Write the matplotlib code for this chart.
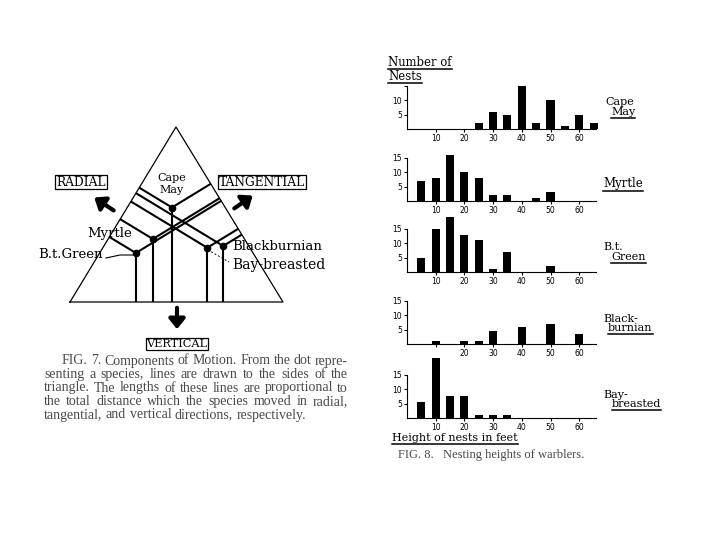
import matplotlib
matplotlib.use("Agg")
import matplotlib.pyplot as plt
import numpy as np

# nest heights (ft), bin centres every 5 ft
heights = [5, 10, 15, 20, 25, 30, 35, 40, 45, 50, 55, 60, 65]
cape_may = [0, 0, 0, 0, 2, 6, 5, 15, 2, 10, 1, 5, 2]
myrtle = [7, 8, 16, 10, 8, 2, 2, 0, 1, 3, 0, 0, 0]
bt_green = [5, 15, 19, 13, 11, 1, 7, 0, 0, 2, 0, 0, 0]
blackburnian = [0, 1, 0, 1, 1, 4.5, 0, 6, 0, 7, 0, 3.5, 0]
bay_breasted = [5.5, 21, 7.5, 7.5, 1, 1, 1, 0, 0, 0, 0, 0, 0]

# components of motion (fractions): radial, tangential, vertical
species = ["Cape May", "Myrtle", "B.t.Green", "Blackburnian", "Bay-breasted"]
radial = [0.21, 0.21, 0.17, 0.56, 0.49]
tangential = [0.25, 0.43, 0.55, 0.12, 0.20]
vertical = [0.54, 0.36, 0.28, 0.32, 0.31]

W, H = 720, 540
fig = plt.figure(figsize=(7.2, 5.4), dpi=100)
ov = fig.add_axes([0, 0, 1, 1])
ov.set_xlim(0, W)
ov.set_ylim(H, 0)
ov.axis("off")
renderer = fig.canvas.get_renderer()

HAND = "DejaVu Serif"
SERIF = "Liberation Serif"
GREY = "#4a4a4a"


def label(x, y, s, size=8, underline=False, ha="left", **kw):
    t = ov.text(x, y, s, fontsize=size, family=HAND, ha=ha, va="center", **kw)
    if underline:
        bb = t.get_window_extent(renderer)
        ov.plot([bb.x0, bb.x1], [y + size * 0.8, y + size * 0.8], color="k", lw=1.1)
    return t


def justify(line, x0, x1, y, last=False, size=10):
    words = line.split()
    texts = [ov.text(0, y, w, fontsize=size, family=SERIF, color=GREY, va="center") for w in words]
    widths = [t.get_window_extent(renderer).width for t in texts]
    gap = size * 0.35 if last else (x1 - x0 - sum(widths)) / (len(words) - 1)
    x = x0
    for t, w in zip(texts, widths):
        t.set_x(x)
        x += w + gap


# ---- Fig. 7 triangle ----
apex = np.array([176.0, 127.0])
bl = np.array([70.0, 302.0])
br = np.array([283.0, 302.0])
ov.plot([bl[0], apex[0], br[0], bl[0]], [bl[1], apex[1], br[1], bl[1]], color="k", lw=0.9)


def foot(p, a, b):
    d = b - a
    return a + np.dot(p - a, d) / np.dot(d, d) * d


dots = []
for r, t, v in zip(radial, tangential, vertical):
    p = r * br + t * bl + v * apex
    dots.append(p)
    for f in (foot(p, apex, bl), foot(p, apex, br), np.array([p[0], bl[1]])):
        ov.plot([p[0], f[0]], [p[1], f[1]], color="k", lw=1.5, solid_capstyle="butt")
    ov.plot(p[0], p[1], "o", color="k", ms=4.5)

label(dots[0][0], 178, "Cape", size=8, ha="center")
label(dots[0][0], 190, "May", size=8, ha="center")
label(87, 233, "Myrtle", size=9.5)
label(38, 255, "B.t.Green", size=9.5)
ov.plot([106, 120, dots[2][0]], [258, 255, 255], color="k", lw=0.8)
label(232, 247, "Blackburnian", size=9.5)
label(232, 265, "Bay-breasted", size=10)
ov.plot([dots[4][0] + 4, 229], [dots[4][1] + 4, 262], color="k", lw=0.7, ls=(0, (2, 2)))

box = dict(boxstyle="square,pad=0.08", fc="white", ec="k", lw=0.9)
ov.text(81, 182, "RADIAL", fontsize=8.8, family=HAND, ha="center", va="center", bbox=box)
ov.text(262, 182, "TANGENTIAL", fontsize=8.8, family=HAND, ha="center", va="center", bbox=box)
ov.text(177, 344, "VERTICAL", fontsize=8.2, family=HAND, ha="center", va="center", bbox=box)

arrow = dict(arrowstyle="-|>,head_length=0.5,head_width=0.4", lw=3, color="k", mutation_scale=12)
ov.annotate("", xy=(92, 196), xytext=(116, 212), arrowprops=arrow)
ov.annotate("", xy=(255, 194), xytext=(232, 210), arrowprops=arrow)
ov.annotate("", xy=(177, 332), xytext=(177, 305), arrowprops=arrow)

cap7 = [
    "FIG. 7.  Components of Motion.  From the dot repre-",
    "senting a species, lines are drawn to the sides of the",
    "triangle.  The lengths of these lines are proportional to",
    "the total distance which the species moved in radial,",
    "tangential, and vertical directions, respectively.",
]
for i, line in enumerate(cap7):
    justify(line, 62 if i == 0 else 44, 348, 361 + i * 13.5, last=(i == len(cap7) - 1))

# ---- Fig. 8 histograms ----
PX = 2.87  # pixels per unit on both axes
baselines = [129, 201, 272, 344, 418]
counts = [cape_may, myrtle, bt_green, blackburnian, bay_breasted]
xlabs = [
    ["10", "20", "30", "40", "50", "60"],
    ["10", "20", "30", "40", "50", "60"],
    ["10", "20", "30", "40", "50", "60"],
    ["", "20", "30", "40", "50", "60"],
    ["10", "20", "30", "40", "50", "60"],
]
ylabs = [["5", "10", ""], ["5", "10", "15"], ["5", "10", "15"], ["5", "10", "15"], ["5", "10", "15"]]

for c, yb, xl, yl in zip(counts, baselines, xlabs, ylabs):
    ax = fig.add_axes([407 / W, (H - yb) / H, 67 * PX / W, 24 * PX / H])
    ax.patch.set_alpha(0)
    ax.bar(heights, c, width=2.8, color="k")
    ax.set_xlim(0, 67)
    ax.set_ylim(0, 24)
    ax.spines[["top", "right"]].set_visible(False)
    ax.spines["left"].set_bounds(0, 15)
    ax.spines["bottom"].set_bounds(0, 66)
    ax.set_xticks([10, 20, 30, 40, 50, 60])
    ax.set_xticklabels(xl)
    ax.set_yticks([5, 10, 15])
    ax.set_yticklabels(yl)
    ax.tick_params(length=2, width=0.8, labelsize=5.5, pad=1.5)

label(388, 62, "Number of", size=8.4, underline=True)
label(388, 76, "Nests", size=8.4, underline=True)
label(605, 102, "Cape", size=8)
label(611, 112, "May", size=8, underline=True)
label(603, 184, "Myrtle", size=8.5, underline=True)
label(603, 247, "B.t.", size=8)
label(611, 257, "Green", size=8, underline=True)
label(603, 319, "Black-", size=8)
label(608, 328, "burnian", size=8, underline=True)
label(603, 395, "Bay-", size=8)
label(612, 404, "breasted", size=8, underline=True)
label(392, 438, "Height of nests in feet", size=8, underline=True)
ov.text(398, 455, "FIG. 8.   Nesting heights of warblers.", fontsize=9, family=SERIF,
        color=GREY, va="center")

fig.savefig("out.png", dpi=100, facecolor="white")
